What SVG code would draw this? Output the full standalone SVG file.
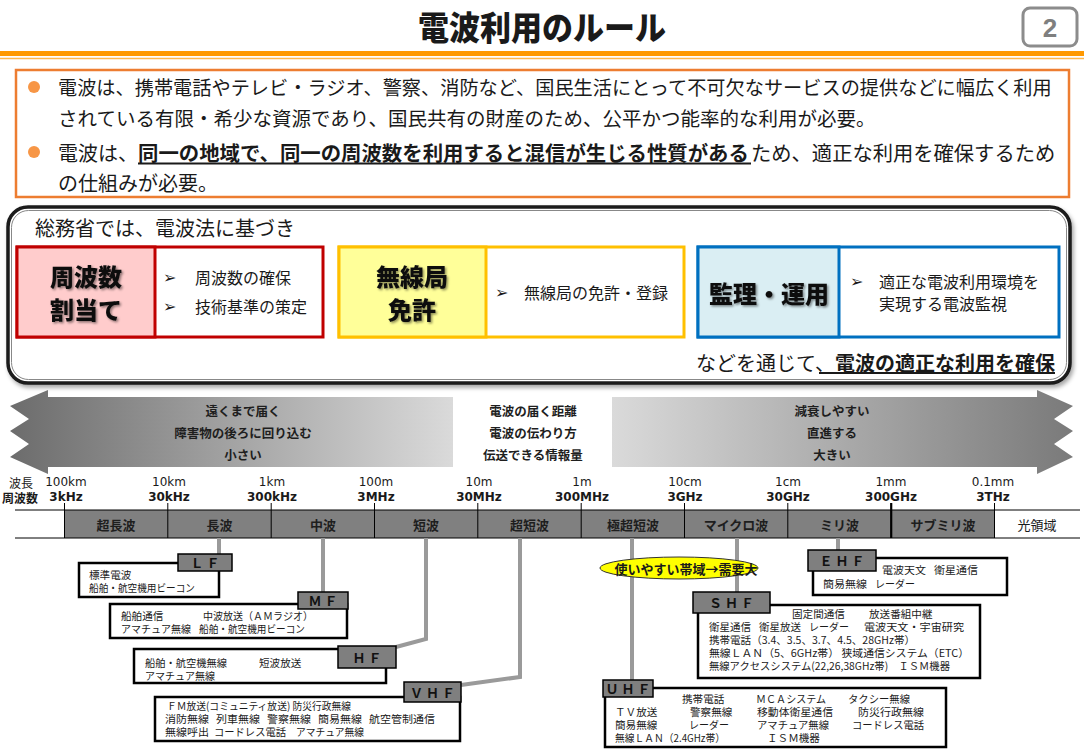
<svg xmlns="http://www.w3.org/2000/svg" width="1084" height="750" viewBox="0 0 1084 750">
<defs>
<style>
.t{font-family:"Noto Sans CJK JP","Noto Sans",sans-serif;dominant-baseline:central;fill:#1a1a1a}
.b{font-weight:bold}
.s11{font-size:10.6px}
.s16{font-size:16px}
.s20{font-size:20px}
.h24{font-size:24px;font-weight:900;text-anchor:middle;filter:url(#ts);fill:#111}
.mk{font-family:"DejaVu Sans",sans-serif;font-size:16px;dominant-baseline:central;fill:#1a1a1a}
.lab{font-family:"Noto Sans CJK JP",sans-serif;font-size:13px;font-weight:bold;text-anchor:middle;dominant-baseline:central;fill:#111;letter-spacing:3px}
.lbox{fill:#7f7f7f;stroke:#000;stroke-width:1.5}
.wbox{fill:#fff;stroke:#000;stroke-width:2.5}
.conn{stroke:#9a9a9a;stroke-width:4;fill:none}
.sc{font-family:"DejaVu Sans",sans-serif;font-size:12px;text-anchor:middle;dominant-baseline:central;fill:#1a1a1a}
.scb{font-family:"DejaVu Sans",sans-serif;font-size:12px;font-weight:bold;text-anchor:middle;dominant-baseline:central;fill:#1a1a1a}
.band{font-family:"Noto Sans CJK JP",sans-serif;font-size:13px;font-weight:bold;text-anchor:middle;dominant-baseline:central;fill:#1e1e1e}
.arr{font-family:"Noto Sans CJK JP",sans-serif;font-size:12.5px;font-weight:bold;text-anchor:middle;dominant-baseline:central;fill:#1e1e1e}
.tick{stroke:#000;stroke-width:1}
</style>
<filter id="ts" x="-10%" y="-10%" width="130%" height="140%"><feDropShadow dx="1.5" dy="1.5" stdDeviation="1" flood-color="#000" flood-opacity="0.45"/></filter>
<filter id="bs" x="-5%" y="-5%" width="110%" height="115%"><feDropShadow dx="2" dy="3" stdDeviation="2" flood-color="#000" flood-opacity="0.35"/></filter>
<linearGradient id="gl" x1="0" y1="0" x2="1" y2="0"><stop offset="0" stop-color="#6c6c6c"/><stop offset="1" stop-color="#dadada"/></linearGradient>
<linearGradient id="gr" x1="0" y1="0" x2="1" y2="0"><stop offset="0" stop-color="#dadada"/><stop offset="1" stop-color="#7a7a7a"/></linearGradient>
</defs>
<rect width="1084" height="750" fill="#fff"/>

<g id="header">
<text x="542" y="26" class="t" font-size="33" font-weight="900" text-anchor="middle" textLength="248" lengthAdjust="spacingAndGlyphs" fill="#000">電波利用のルール</text>
<rect x="1023" y="8" width="54" height="38" rx="7" fill="#fff" stroke="#8c8c8c" stroke-width="3"/>
<text x="1050" y="28" font-family="Liberation Sans,sans-serif" font-size="26" font-weight="bold" fill="#7f7f7f" text-anchor="middle" dominant-baseline="central">2</text>
<rect x="0" y="51" width="1084" height="5" fill="#FF9900"/>
<line x1="0" y1="58.5" x2="1084" y2="58.5" stroke="#FFB84D" stroke-width="1.5"/>
</g>

<g id="intro">
<rect x="16" y="70" width="1053" height="127" fill="#fff" stroke="#ED7D31" stroke-width="2.5"/>
<circle cx="34" cy="87" r="6" fill="#F79646"/>
<circle cx="34" cy="152" r="6" fill="#F79646"/>
<text class="t"><tspan x="58" y="87" font-size="19.2">電波は、携帯電話やテレビ・ラジオ、警察、消防など、国民生活にとって不可欠なサービスの提供などに幅広く利用</tspan><tspan x="58" y="117" font-size="19.5">されている有限・希少な資源であり、国民共有の財産のため、公平かつ能率的な利用が必要。</tspan></text>
<text class="t"><tspan x="58" y="152" font-size="20">電波は、</tspan><tspan x="138" y="152" font-size="20.4" font-weight="bold">同一の地域で、同一の周波数を利用すると混信が生じる性質がある</tspan><tspan x="751" y="152" font-size="20.3">ため、適正な利用を確保するため</tspan><tspan x="58" y="182" font-size="20">の仕組みが必要。</tspan></text>
<line x1="138" y1="163.5" x2="751" y2="163.5" stroke="#1a1a1a" stroke-width="1.8"/>
</g>

<g id="mic">
<rect x="8" y="207" width="1062" height="176" rx="20" fill="#fff" stroke="#1a1a1a" stroke-width="3.5" filter="url(#bs)"/>
<rect x="11.5" y="210.5" width="1055" height="169" rx="17" fill="none" stroke="#888" stroke-width="1"/>
<text x="35" y="227" class="t s20">総務省では、電波法に基づき</text>
<text x="1055" y="362" class="t s20" text-anchor="end">などを通じて、<tspan font-weight="bold">電波の適正な利用を確保</tspan></text>
<line x1="819" y1="373" x2="1055" y2="373" stroke="#1a1a1a" stroke-width="1.8"/>
</g>

<g id="freq-assign">
<rect x="17" y="247" width="306" height="90" fill="#fff" stroke="#C00000" stroke-width="3"/>
<rect x="17" y="247" width="138" height="90" fill="#FFCCCC" stroke="#C00000" stroke-width="3"/>
<text class="t h24"><tspan x="86" y="275">周波数</tspan><tspan x="86" y="308">割当て</tspan></text>
<text class="mk"><tspan x="163" y="277">➢</tspan><tspan x="163" y="306">➢</tspan></text>
<text class="t s16"><tspan x="195" y="277">周波数の確保</tspan><tspan x="195" y="306">技術基準の策定</tspan></text>
</g>

<g id="license">
<rect x="339" y="247" width="345" height="90" fill="#fff" stroke="#FFC000" stroke-width="3"/>
<rect x="339" y="247" width="147" height="90" fill="#FFFF99" stroke="#FFC000" stroke-width="3"/>
<text class="t h24"><tspan x="412" y="275">無線局</tspan><tspan x="412" y="308">免許</tspan></text>
<text x="495" y="292" class="mk">➢</text>
<text x="524" y="292" class="t s16">無線局の免許・登録</text>
</g>

<g id="monitor">
<rect x="698" y="247" width="361" height="90" fill="#fff" stroke="#0070C0" stroke-width="3"/>
<rect x="698" y="247" width="141" height="90" fill="#DAEEF3" stroke="#0070C0" stroke-width="3"/>
<text x="769" y="292" class="t h24">監理・運用</text>
<text x="850" y="281" class="mk">➢</text>
<text class="t s16"><tspan x="879" y="281">適正な電波利用環境を</tspan><tspan x="879" y="303">実現する電波監視</tspan></text>
</g>

<g id="arrows">
<polygon points="48,390 10,406 29,419 10,431 29,444 10,457 48,474 48,467 453,467 453,397 48,397" fill="url(#gl)"/>
<polygon points="612,397 1037,397 1037,390 1073,406 1054,419 1073,431 1054,444 1073,457 1037,474 1037,467 612,467" fill="url(#gr)"/>
<text class="arr"><tspan x="243" y="410">遠くまで届く</tspan><tspan x="243" y="432">障害物の後ろに回り込む</tspan><tspan x="243" y="454">小さい</tspan></text>
<text class="arr"><tspan x="533" y="410">電波の届く距離</tspan><tspan x="533" y="432">電波の伝わり方</tspan><tspan x="533" y="454">伝送できる情報量</tspan></text>
<text class="arr"><tspan x="832" y="410">減衰しやすい</tspan><tspan x="832" y="432">直進する</tspan><tspan x="832" y="454">大きい</tspan></text>
</g>

<g id="scale">
<text class="t" font-size="12" text-anchor="middle"><tspan x="21" y="482">波長</tspan><tspan x="20" y="497" font-weight="bold">周波数</tspan></text>
<text class="sc"><tspan x="66" y="482">100km</tspan><tspan x="169" y="482">10km</tspan><tspan x="272" y="482">1km</tspan><tspan x="376" y="482">100m</tspan><tspan x="479" y="482">10m</tspan><tspan x="582" y="482">1m</tspan><tspan x="685" y="482">10cm</tspan><tspan x="788" y="482">1cm</tspan><tspan x="891" y="482">1mm</tspan><tspan x="993" y="482">0.1mm</tspan></text>
<text class="scb"><tspan x="66" y="497">3kHz</tspan><tspan x="169" y="497">30kHz</tspan><tspan x="272" y="497">300kHz</tspan><tspan x="376" y="497">3MHz</tspan><tspan x="479" y="497">30MHz</tspan><tspan x="582" y="497">300MHz</tspan><tspan x="685" y="497">3GHz</tspan><tspan x="788" y="497">30GHz</tspan><tspan x="891" y="497">300GHz</tspan><tspan x="993" y="497">3THz</tspan></text>
<rect x="64.5" y="510" width="929.5" height="28" fill="#808080"/>
<line x1="15" y1="510" x2="1080" y2="510" stroke="#000" stroke-width="1"/>
<line x1="15" y1="538" x2="1080" y2="538" stroke="#000" stroke-width="1"/>
<g class="tick">
<line x1="64.5" y1="503" x2="64.5" y2="538"/>
<line x1="167.8" y1="503" x2="167.8" y2="538"/>
<line x1="271.2" y1="503" x2="271.2" y2="538"/>
<line x1="374.5" y1="503" x2="374.5" y2="538"/>
<line x1="477.8" y1="503" x2="477.8" y2="538"/>
<line x1="581.2" y1="503" x2="581.2" y2="538"/>
<line x1="684.5" y1="503" x2="684.5" y2="538"/>
<line x1="787.8" y1="503" x2="787.8" y2="538"/>
<line x1="891.2" y1="503" x2="891.2" y2="538" stroke-width="2.2"/>
<line x1="994.5" y1="503" x2="994.5" y2="538"/>
</g>
<text class="band"><tspan x="116" y="524">超長波</tspan><tspan x="219.5" y="524">長波</tspan><tspan x="323" y="524">中波</tspan><tspan x="426" y="524">短波</tspan><tspan x="529.5" y="524">超短波</tspan><tspan x="633" y="524">極超短波</tspan><tspan x="736" y="524">マイクロ波</tspan><tspan x="839.5" y="524">ミリ波</tspan><tspan x="943" y="524">サブミリ波</tspan></text>
<text x="1037" y="524" class="t" font-size="13" text-anchor="middle" fill="#333">光領域</text>
</g>

<g id="connectors">
<path class="conn" d="M219 538 V554"/>
<path class="conn" d="M323 538 V592"/>
<path class="conn" d="M426 538 V639 L396 647"/>
<path class="conn" d="M520 538 V677 L461 685"/>
<path class="conn" d="M632 538 V680"/>
<path class="conn" d="M737 538 V592"/>
<path class="conn" d="M838 538 V550"/>
</g>

<g id="demand">
<ellipse cx="679" cy="568" rx="79" ry="11" fill="#FFFF00" stroke="#333" stroke-width="1"/>
<text x="686" y="568" class="t b" font-size="13" text-anchor="middle" fill="#000">使いやすい帯域→需要大</text>
</g>

<g id="lf">
<rect x="79" y="563" width="140" height="34" class="wbox"/>
<rect x="178" y="554" width="54" height="17" class="lbox"/>
<text x="206.5" y="562.5" class="lab">ＬＦ</text>
<text class="t s11"><tspan x="89" y="574">標準電波</tspan><tspan x="89" y="587" textLength="106" lengthAdjust="spacingAndGlyphs">船舶・航空機用ビーコン</tspan></text>
</g>

<g id="mf">
<rect x="110" y="604" width="237" height="34" class="wbox"/>
<rect x="298" y="592" width="50" height="17" class="lbox"/>
<text x="324.5" y="600.5" class="lab">ＭＦ</text>
<text class="t s11"><tspan x="121" y="615">船舶通信</tspan><tspan x="203" y="615" textLength="110" lengthAdjust="spacingAndGlyphs">中波放送（ＡＭラジオ）</tspan><tspan x="121" y="628" textLength="70" lengthAdjust="spacingAndGlyphs">アマチュア無線</tspan><tspan x="199" y="628" textLength="106" lengthAdjust="spacingAndGlyphs">船舶・航空機用ビーコン</tspan></text>
</g>

<g id="hf">
<rect x="134" y="649" width="252" height="34" class="wbox"/>
<rect x="338" y="646" width="58" height="22" class="lbox"/>
<text x="368.5" y="657" class="lab">ＨＦ</text>
<text class="t s11"><tspan x="145" y="662" textLength="82" lengthAdjust="spacingAndGlyphs">船舶・航空機無線</tspan><tspan x="259" y="662">短波放送</tspan><tspan x="145" y="675" textLength="70" lengthAdjust="spacingAndGlyphs">アマチュア無線</tspan></text>
</g>

<g id="vhf">
<rect x="155" y="697" width="305" height="44" class="wbox"/>
<rect x="404" y="682" width="57" height="20" class="lbox"/>
<text x="434" y="692" class="lab">ＶＨＦ</text>
<text class="t s11" xml:space="preserve"><tspan x="167" y="705" textLength="184" lengthAdjust="spacingAndGlyphs">ＦＭ放送(コミュニティ放送) 防災行政無線</tspan><tspan x="165" y="718" textLength="44" lengthAdjust="spacingAndGlyphs">消防無線</tspan><tspan x="216" y="718" textLength="44" lengthAdjust="spacingAndGlyphs">列車無線</tspan><tspan x="267" y="718" textLength="44" lengthAdjust="spacingAndGlyphs">警察無線</tspan><tspan x="318" y="718" textLength="44" lengthAdjust="spacingAndGlyphs">簡易無線</tspan><tspan x="369" y="718" textLength="66" lengthAdjust="spacingAndGlyphs">航空管制通信</tspan><tspan x="165" y="731" textLength="44" lengthAdjust="spacingAndGlyphs">無線呼出</tspan><tspan x="214" y="731" textLength="72" lengthAdjust="spacingAndGlyphs">コードレス電話</tspan><tspan x="296" y="731" textLength="68" lengthAdjust="spacingAndGlyphs">アマチュア無線</tspan></text>
</g>

<g id="uhf">
<rect x="605" y="688" width="341" height="59" class="wbox"/>
<rect x="603" y="680" width="50" height="17" class="lbox"/>
<text x="629.5" y="688.5" class="lab">ＵＨＦ</text>
<text class="t s11"><tspan x="682" y="698">携帯電話</tspan><tspan x="756" y="698" textLength="70" lengthAdjust="spacingAndGlyphs">ＭＣＡシステム</tspan><tspan x="848" y="698" textLength="62" lengthAdjust="spacingAndGlyphs">タクシー無線</tspan><tspan x="615" y="711">ＴＶ放送</tspan><tspan x="690" y="711">警察無線</tspan><tspan x="757" y="711" textLength="76" lengthAdjust="spacingAndGlyphs">移動体衛星通信</tspan><tspan x="858" y="711" textLength="66" lengthAdjust="spacingAndGlyphs">防災行政無線</tspan><tspan x="615" y="724">簡易無線</tspan><tspan x="689" y="724" textLength="40" lengthAdjust="spacingAndGlyphs">レーダー</tspan><tspan x="757" y="724" textLength="72" lengthAdjust="spacingAndGlyphs">アマチュア無線</tspan><tspan x="852" y="724" textLength="72" lengthAdjust="spacingAndGlyphs">コードレス電話</tspan><tspan x="615" y="737" textLength="110" lengthAdjust="spacingAndGlyphs">無線ＬＡＮ（2.4GHz帯）</tspan><tspan x="767" y="737">ＩＳＭ機器</tspan></text>
</g>

<g id="shf">
<rect x="698" y="605" width="282" height="73" class="wbox"/>
<rect x="693" y="592" width="77" height="21" class="lbox"/>
<text x="733" y="602.5" class="lab">ＳＨＦ</text>
<text class="t s11" xml:space="preserve"><tspan x="792" y="613">固定間通信</tspan><tspan x="869" y="613">放送番組中継</tspan><tspan x="709" y="626" textLength="42" lengthAdjust="spacingAndGlyphs">衛星通信</tspan><tspan x="759" y="626" textLength="42" lengthAdjust="spacingAndGlyphs">衛星放送</tspan><tspan x="809" y="626" textLength="40" lengthAdjust="spacingAndGlyphs">レーダー</tspan><tspan x="864" y="626" textLength="100" lengthAdjust="spacingAndGlyphs">電波天文・宇宙研究</tspan><tspan x="709" y="639" textLength="206" lengthAdjust="spacingAndGlyphs">携帯電話（3.4、3.5、3.7、4.5、28GHz帯）</tspan><tspan x="709" y="652" textLength="260" lengthAdjust="spacingAndGlyphs">無線ＬＡＮ（5、6GHz帯） 狭域通信システム（ETC）</tspan><tspan x="709" y="665" textLength="241" lengthAdjust="spacingAndGlyphs">無線アクセスシステム(22,26,38GHz帯)　ＩＳＭ機器</tspan></text>
</g>

<g id="ehf">
<rect x="813" y="558" width="194" height="37" class="wbox"/>
<rect x="808" y="550" width="68" height="21" class="lbox"/>
<text x="843.5" y="560.5" class="lab">ＥＨＦ</text>
<text class="t s11"><tspan x="882" y="569" textLength="44" lengthAdjust="spacingAndGlyphs">電波天文</tspan><tspan x="934" y="569" textLength="44" lengthAdjust="spacingAndGlyphs">衛星通信</tspan><tspan x="823" y="583" textLength="44" lengthAdjust="spacingAndGlyphs">簡易無線</tspan><tspan x="875" y="583" textLength="40" lengthAdjust="spacingAndGlyphs">レーダー</tspan></text>
</g>
</svg>
